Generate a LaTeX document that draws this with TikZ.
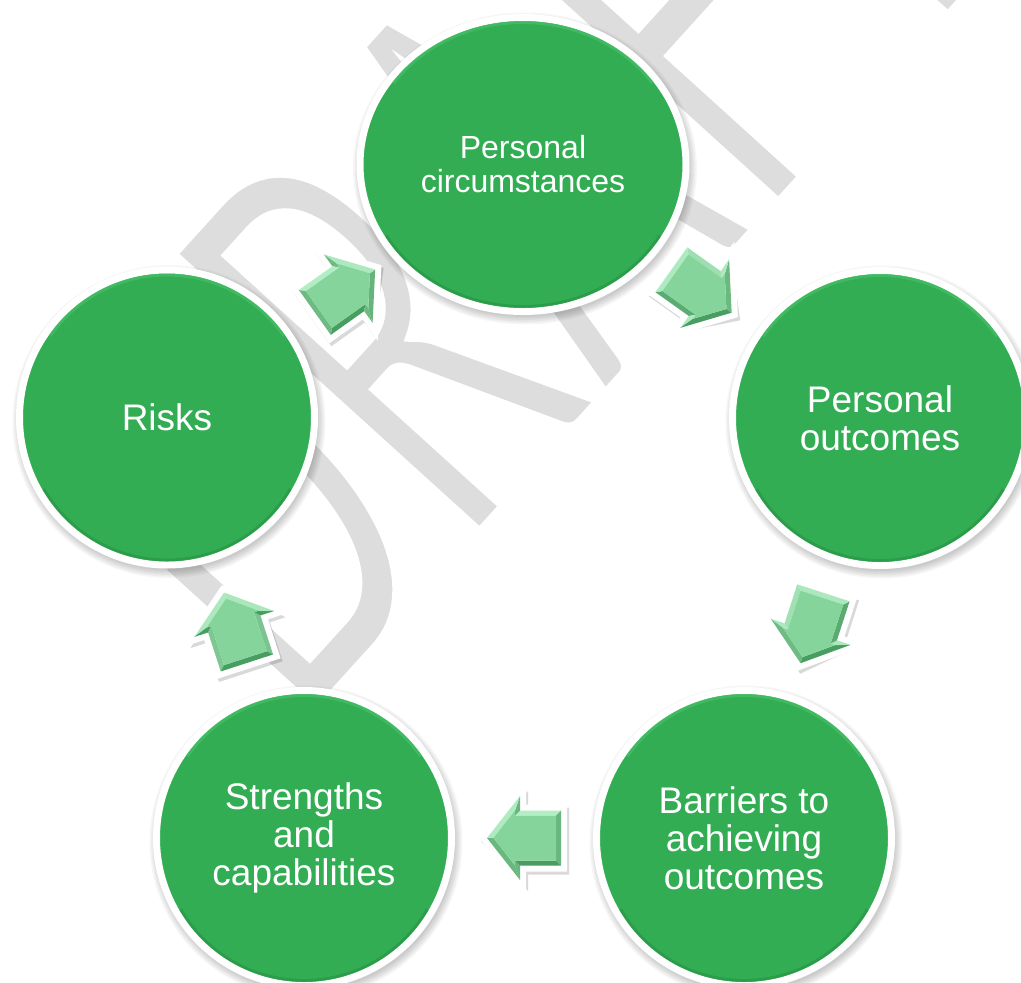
\documentclass[tikz,border=0pt]{standalone}
\usepackage{fontspec}
\setmainfont{Liberation Sans}
\newfontfamily\wmfont{Carlito}
\usetikzlibrary{shapes.geometric,calc}
\definecolor{bubblegreen}{RGB}{50,173,83}
\definecolor{bubbledark}{RGB}{30,130,58}
\definecolor{bubblelight}{RGB}{78,200,112}
\definecolor{arrowface}{RGB}{132,212,155}
\definecolor{arrowlight}{RGB}{178,238,196}
\definecolor{arrowdark}{RGB}{72,158,96}
\definecolor{wmgray}{RGB}{221,221,221}
\newcommand{\thinstart}{\special{pdf:literal direct 2 Tr 14 w 1 1 1 RG}}
\newcommand{\thinstop}{\special{pdf:literal direct 0 Tr}}
\tikzset{
  bubble/.style={circle, minimum size=295pt, inner sep=0pt, outer sep=0pt,
    fill=bubblegreen, draw=white, line width=7pt, text=white, align=center,
    font=\fontsize{37}{38}\selectfont},
  topbubble/.style={bubble, ellipse, minimum width=326pt, minimum height=294pt,
    font=\fontsize{32}{34}\selectfont},
  bubbleshadow/.style={fill=black, opacity=0.035},
  rimdark/.style={draw=bubbledark, line width=3pt, opacity=0.35},
  rimlight/.style={draw=bubblelight, line width=3pt, opacity=0.5},
  pics/barrow/.style={code={
    \fill[black, opacity=0.15, shift={({-56.3-(#1)}:3.6)}]
      (-43,-33.5) -- (-2,-33.5) -- (-2,-50) -- (45,0) -- (-2,50) -- (-2,33.5) -- (-43,33.5) -- cycle;
    \filldraw[draw=white, line width=12pt, line join=miter, fill=arrowface]
      (-37,-27.5) -- (4,-27.5) -- (4,-42) -- (37,0) -- (4,42) -- (4,27.5) -- (-37,27.5) -- cycle;
    \foreach \ax/\ay/\bx/\by/\cx/\cy/\dx/\dy/\nang in {
        -37/-27.5/4/-27.5/9/-22.5/-32/-22.5/-90,
        4/-27.5/4/-42/9/-27.5/9/-22.5/180,
        4/-42/37/0/30.6/0/9/-27.5/-38.2,
        37/0/4/42/9/27.5/30.6/0/38.2,
        4/42/4/27.5/9/22.5/9/27.5/180,
        4/27.5/-37/27.5/-32/22.5/9/22.5/90,
        -37/27.5/-37/-27.5/-32/-22.5/-32/22.5/180} {
      \pgfmathtruncatemacro\bb{max(0,min(100,50+55*cos((#1)+\nang-110)))}
      \fill[arrowlight!\bb!arrowdark] (\ax,\ay) -- (\bx,\by) -- (\cx,\cy) -- (\dx,\dy) -- cycle;
    }
    \fill[arrowface]
      (-32,-22.5) -- (9,-22.5) -- (9,-27.5) -- (30.6,0) -- (9,27.5) -- (9,22.5) -- (-32,22.5) -- cycle;
  }}
}
\begin{document}
\begin{tikzpicture}[x=1pt, y=1pt]
\useasboundingbox (0,0) rectangle (1021,-983);
\clip (0,0) rectangle (1021,-983);
\fill[white] (0,0) rectangle (1021,-983);
% watermark
\begin{scope}[shift={(301,-733)}, rotate=47.8, xscale=0.6]
  \node[transform shape, anchor=base west, inner sep=0pt, outer sep=0pt, text=wmgray,
    font=\wmfont\fontsize{653}{653}\selectfont] (wm) at (0,0) {\thinstart DRA\kern12pt F\kern35pt T\thinstop};
\end{scope}
% centres
\coordinate (cpc) at (523,-164.5);
\coordinate (cpo) at (880,-418);
\coordinate (cba) at (744,-838);
\coordinate (cst) at (304,-838);
\coordinate (cri) at (167,-417.5);
% soft shadows
\foreach \c/\rx/\ry in {cpc/166.5/150.5, cpo/151/151, cba/151/151, cst/151/151, cri/151/151}
  \foreach \k in {0,...,5}
    \fill[bubbleshadow] ($(\c)+(2,-4)$) ellipse [x radius=\rx+\k*1.5-2, y radius=\ry+\k*1.5-2];
% bubbles
\node[topbubble] (pc) at (cpc) {Personal\\circumstances};
\node[bubble] (po) at (cpo) {Personal\\outcomes};
\node[bubble] (ba) at (cba) {Barriers to\\achieving\\outcomes};
\node[bubble] (st) at (cst) {Strengths\\and\\capabilities};
\node[bubble] (ri) at (cri) {Risks};
% bevel rims
\foreach \n in {po,ba,st,ri} {
  \draw[rimdark] ($(\n)+(210:142.5)$) arc[start angle=210, end angle=330, radius=142.5];
  \draw[rimlight] ($(\n)+(35:142.5)$) arc[start angle=35, end angle=145, radius=142.5];
}
\draw[rimdark] ($(pc)+(210:158 and 142)$) arc[start angle=210, end angle=330, x radius=158, y radius=142];
\draw[rimlight] ($(pc)+(35:158 and 142)$) arc[start angle=35, end angle=145, x radius=158, y radius=142];
% arrows
\coordinate (m1) at ($(pc)!0.5!(po)$);
\coordinate (m2) at ($(po)!0.5!(ba)$);
\coordinate (m3) at ($(ba)!0.5!(st)$);
\coordinate (m4) at ($(st)!0.5!(ri)$);
\coordinate (m5) at ($(ri)!0.5!(pc)$);
\pic[rotate=-35.4] at (m1) {barrow=-35.4};
\pic[rotate=-108] at (m2) {barrow=-108};
\pic[rotate=180] at (m3) {barrow=180};
\pic[rotate=108] at (m4) {barrow=108};
\pic[rotate=35.4] at (m5) {barrow=35.4};
\end{tikzpicture}
\end{document}
